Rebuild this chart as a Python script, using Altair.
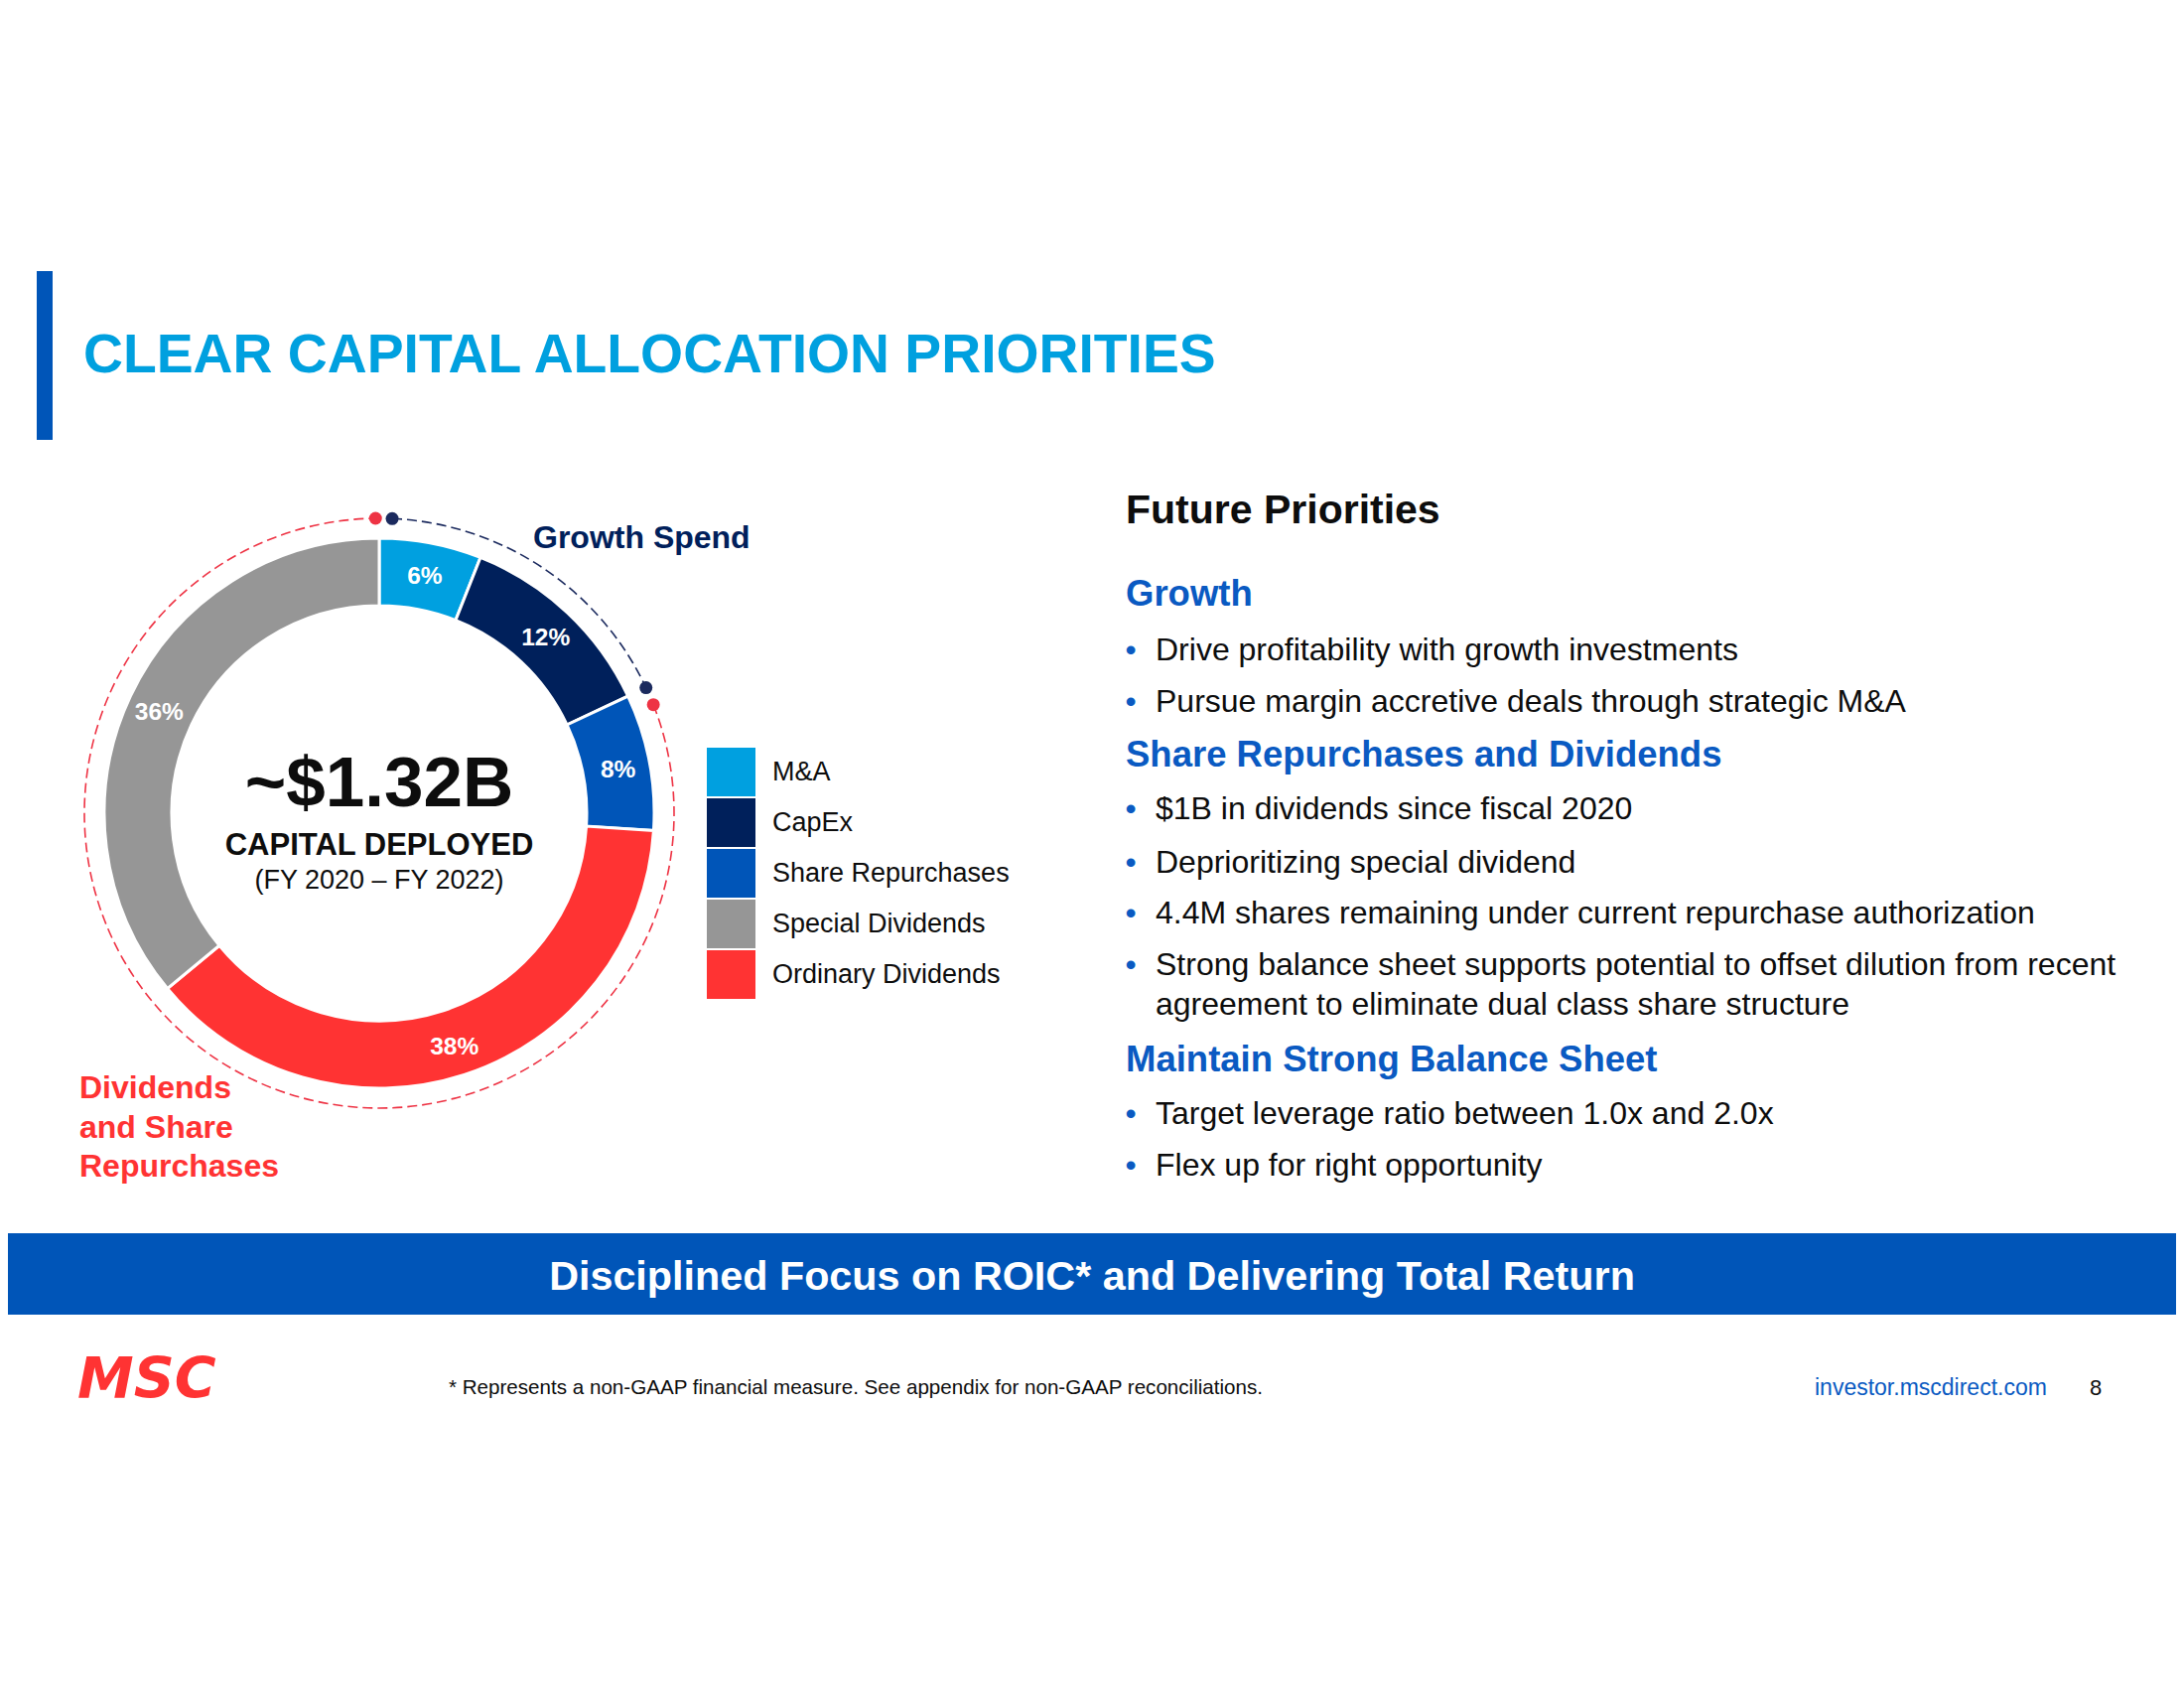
import math
import altair as alt
import pandas as pd

# ---------------- data ----------------
categories = ["M&A", "CapEx", "Share Repurchases", "Ordinary Dividends", "Special Dividends"]
shares = [6, 12, 8, 38, 36]                      # % of capital deployed, clockwise from 12 o'clock
legend_order = ["M&A", "CapEx", "Share Repurchases", "Special Dividends", "Ordinary Dividends"]
legend_colors = ["#00A0E0", "#00205B", "#0055B8", "#969696", "#FF3333"]

bracket_names = ["Growth Spend", "Dividends and Share Repurchases"]
bracket_start = [0.7, 19.0]                      # % around the circle
bracket_end = [18.0, 99.8]
bracket_colors = ["#1B2A5E", "#EE3344"]

total_text = "~$1.32B"
total_sub = "CAPITAL DEPLOYED"
total_period = "(FY 2020 \u2013 FY 2022)"

title_text = "CLEAR CAPITAL ALLOCATION PRIORITIES"
right_heading = "Future Priorities"
sections = ["Growth", "Share Repurchases and Dividends", "Maintain Strong Balance Sheet"]
bullets = [
    "Drive profitability with growth investments",
    "Pursue margin accretive deals through strategic M&A",
    "$1B in dividends since fiscal 2020",
    "Deprioritizing special dividend",
    "4.4M shares remaining under current repurchase authorization",
    "Strong balance sheet supports potential to offset dilution from recent",
    "agreement to eliminate dual class share structure",
    "Target leverage ratio between 1.0x and 2.0x",
    "Flex up for right opportunity",
]
bullet_has_dot = [True, True, True, True, True, True, False, True, True]
banner_text = "Disciplined Focus on ROIC* and Delivering Total Return"
footnote_text = "* Represents a non-GAAP financial measure. See appendix for non-GAAP reconciliations."
url_text = "investor.mscdirect.com"
page_text = "8"
logo_text = "MSC"
div_label_lines = ["Dividends", "and Share", "Repurchases"]

# ---------------- layout ----------------
W, H = 2184, 1684
FONT = "Liberation Sans"
BLACK = "#0D0D0D"
BLUE = "#0A5AC2"
CX, CY = 374, 811
R_OUT, R_IN, R_LABEL, R_BR = 277, 209, 245, 297
section_y = [591, 753, 1060]
bullet_y = [647, 699, 807, 861, 912, 964, 1004, 1114, 1166]
div_label_y = [1088, 1128, 1167]

theta_scale = alt.Scale(domain=[0, 100])


def one(s):
    return pd.DataFrame({"t": [s]})


def text_layer(s, x, y, size, color=BLACK, weight="normal", align="left", style="normal", font=FONT):
    return alt.Chart(one(s)).mark_text(
        font=font, fontSize=size, fontWeight=weight, fontStyle=style, color=color,
        align=align, baseline="middle"
    ).encode(text="t:N", x=alt.value(x), y=alt.value(y))


layers = []

# left accent bar and title
layers.append(alt.Chart(one("bar")).mark_rect(color="#0055B8").encode(
    x=alt.value(29), x2=alt.value(45), y=alt.value(265), y2=alt.value(435)))
layers.append(text_layer(title_text, 76, 350, 55.3, color="#00A0DF", weight="bold"))

# donut
donut_df = pd.DataFrame({"category": categories, "share": shares, "order": list(range(len(shares)))})
donut_df["label"] = [f"{v}%" for v in shares]
ring = alt.Chart(donut_df).mark_arc(
    innerRadius=R_IN, outerRadius=R_OUT, stroke="white", strokeWidth=3
).encode(
    theta=alt.Theta("share:Q", stack=True, scale=theta_scale),
    order=alt.Order("order:Q"),
    color=alt.Color(
        "category:N",
        scale=alt.Scale(domain=legend_order, range=legend_colors),
        legend=alt.Legend(
            orient="none", legendX=704, legendY=745, title=None,
            symbolType="square", symbolSize=2401, symbolStrokeWidth=0, symbolOpacity=1,
            rowPadding=2, labelFontSize=27, labelFont=FONT, labelColor=BLACK,
            labelOffset=17, padding=0, labelLimit=500,
        ),
    ),
    x=alt.value(CX), y=alt.value(CY),
)
layers.append(ring)
pct = alt.Chart(donut_df).mark_text(
    radius=R_LABEL, font=FONT, fontSize=24.5, fontWeight="bold", color="white", baseline="middle", dy=3
).encode(
    theta=alt.Theta("share:Q", stack=True, scale=theta_scale),
    order=alt.Order("order:Q"),
    text="label:N",
    x=alt.value(CX), y=alt.value(CY),
)
layers.append(pct)

# centre text
layers.append(text_layer(total_text, CX, 783, 71, weight="bold", align="center"))
layers.append(text_layer(total_sub, CX, 844, 31, weight="bold", align="center"))
layers.append(text_layer(total_period, CX, 879, 27, align="center"))

# dashed brackets + end dots
for name, s, e, col in zip(bracket_names, bracket_start, bracket_end, bracket_colors):
    L = R_BR * 2 * math.pi * (e - s) / 100.0
    n = int(L // 15)
    rem = max(min(L - 15 * n, 10), 0.01)
    dash = [10, 5] * n + [rem, 100000]
    bdf = pd.DataFrame({"name": [name], "start": [s], "end": [e]})
    layers.append(alt.Chart(bdf).mark_arc(
        outerRadius=R_BR, innerRadius=0, filled=False, fillOpacity=0,
        stroke=col, strokeWidth=1.6, strokeDash=dash
    ).encode(
        theta=alt.Theta("start:Q", scale=theta_scale, stack=False),
        theta2="end:Q",
        x=alt.value(CX), y=alt.value(CY),
    ))
    ddf = pd.DataFrame({"pos": [s, e]})
    layers.append(alt.Chart(ddf).transform_calculate(
        px=f"{CX} + {R_BR} * sin(2 * PI * datum.pos / 100)",
        py=f"{CY} - {R_BR} * cos(2 * PI * datum.pos / 100)",
    ).mark_circle(size=169, opacity=1, color=col).encode(
        x=alt.X("px:Q", scale=None), y=alt.Y("py:Q", scale=None)
    ))

# bracket labels
layers.append(text_layer(bracket_names[0], 529, 534, 32, color="#00205B", weight="bold"))
div_df = pd.DataFrame({"t": div_label_lines, "y": div_label_y})
layers.append(alt.Chart(div_df).mark_text(
    font=FONT, fontSize=32, fontWeight="bold", color="#FF3333", align="left", baseline="middle"
).encode(text="t:N", x=alt.value(72), y=alt.Y("y:Q", scale=None)))

# right panel
layers.append(text_layer(right_heading, 1126, 507, 41, weight="bold"))
sec_df = pd.DataFrame({"t": sections, "y": section_y})
layers.append(alt.Chart(sec_df).mark_text(
    font=FONT, fontSize=36.5, fontWeight="bold", color=BLUE, align="left", baseline="middle"
).encode(text="t:N", x=alt.value(1126), y=alt.Y("y:Q", scale=None)))
bul_df = pd.DataFrame({"t": bullets, "y": bullet_y, "dot": bullet_has_dot})
layers.append(alt.Chart(bul_df).mark_text(
    font=FONT, fontSize=32, color=BLACK, align="left", baseline="middle"
).encode(text="t:N", x=alt.value(1156), y=alt.Y("y:Q", scale=None)))
layers.append(alt.Chart(bul_df).transform_filter("datum.dot").transform_calculate(
    b="'\u2022'").mark_text(
    font=FONT, fontSize=32, color=BLUE, align="center", baseline="middle"
).encode(text="b:N", x=alt.value(1131), y=alt.Y("y:Q", scale=None)))

# banner
layers.append(alt.Chart(one("banner")).mark_rect(color="#0055B8").encode(
    x=alt.value(0), x2=alt.value(W), y=alt.value(1234), y2=alt.value(1316)))
layers.append(text_layer(banner_text, 1092, 1279, 41.3, color="white", weight="bold", align="center"))

# footer
layers.append(text_layer(logo_text, 70, 1383, 57, color="#FF3333", weight="bold", style="italic",
                         font="DejaVu Sans"))
layers.append(text_layer(footnote_text, 444, 1390, 20.6))
layers.append(text_layer(url_text, 1820, 1390, 23, color=BLUE))
layers.append(text_layer(page_text, 2097, 1390, 22))

chart = alt.layer(*layers).properties(
    width=W, height=H, padding=0,
    autosize=alt.AutoSizeParams(type="none"),
    background="white",
).configure_view(stroke=None)

chart.save("out.html", embed_options={"renderer": "svg", "actions": False})
